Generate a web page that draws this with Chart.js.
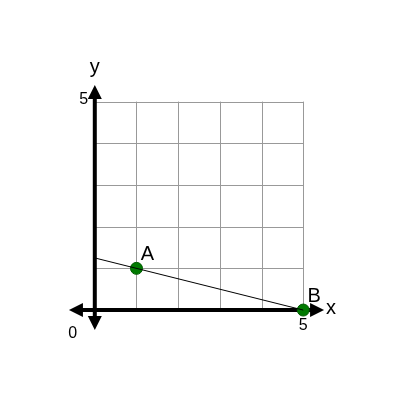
<!DOCTYPE html>
<html>
<head>
<meta charset="utf-8">
<script src="https://cdn.jsdelivr.net/npm/chart.js@4"></script>
<style>
  html, body { margin: 0; padding: 0; background: #ffffff; }
  #wrap { width: 400px; height: 400px; }
</style>
</head>
<body>
<div id="wrap"><canvas id="chart" width="400" height="400"></canvas></div>
<script>
// Grid and data values
var gridTicks = [0, 1, 2, 3, 4, 5];
var lineX = [0, 5];
var lineY = [1.25, 0];
var pointNames = ['A', 'B'];
var pointX = [1, 5];
var pointY = [1, 0];

// Draws grid, axes with arrows, tick labels and point names
var planePlugin = {
  id: 'plane',
  beforeDatasetsDraw: function(chart) {
    var ctx = chart.ctx, xs = chart.scales.x, ys = chart.scales.y;
    var x0 = xs.getPixelForValue(0), y0 = ys.getPixelForValue(0);
    var x5 = xs.getPixelForValue(5), y5 = ys.getPixelForValue(5);
    ctx.save();
    ctx.strokeStyle = '#999999';
    ctx.lineWidth = 1;
    gridTicks.forEach(function(t) {
      var px = Math.round(xs.getPixelForValue(t)) + 0.5;
      var py = Math.round(ys.getPixelForValue(t)) + 0.5;
      ctx.beginPath(); ctx.moveTo(px, y0); ctx.lineTo(px, y5); ctx.stroke();
      ctx.beginPath(); ctx.moveTo(x0, py); ctx.lineTo(x5, py); ctx.stroke();
    });
    // axes
    ctx.strokeStyle = '#000000';
    ctx.fillStyle = '#000000';
    ctx.lineWidth = 4;
    var xl = xs.getPixelForValue(-0.62), xr = xs.getPixelForValue(5.5);
    var yt = ys.getPixelForValue(5.4), yb = ys.getPixelForValue(-0.48);
    ctx.beginPath(); ctx.moveTo(xl + 8, y0); ctx.lineTo(xr - 8, y0); ctx.stroke();
    ctx.beginPath(); ctx.moveTo(x0, yt + 8); ctx.lineTo(x0, yb - 8); ctx.stroke();
    function arrow(tx, ty, dx, dy) {
      ctx.beginPath();
      ctx.moveTo(tx, ty);
      ctx.lineTo(tx - dx * 14 - dy * 7, ty - dy * 14 - dx * 7);
      ctx.lineTo(tx - dx * 14 + dy * 7, ty - dy * 14 + dx * 7);
      ctx.closePath(); ctx.fill();
    }
    arrow(xl, y0, -1, 0); arrow(xr, y0, 1, 0);
    arrow(x0, yt, 0, -1); arrow(x0, yb, 0, 1);
    // labels
    ctx.font = '20px "Liberation Sans", Arial, sans-serif';
    ctx.textAlign = 'center'; ctx.textBaseline = 'middle';
    ctx.fillText('y', x0, yt - 17);
    ctx.fillText('x', xr + 7, y0 - 2);
    ctx.font = '16px "Liberation Sans", Arial, sans-serif';
    ctx.fillText('5', x0 - 11, y5 - 2);
    ctx.fillText('5', x5, y0 + 16);
    ctx.fillText('0', x0 - 22, y0 + 24);
    ctx.font = '20px "Liberation Sans", Arial, sans-serif';
    for (var i = 0; i < pointNames.length; i++) {
      ctx.fillText(pointNames[i], xs.getPixelForValue(pointX[i]) + 11, ys.getPixelForValue(pointY[i]) - 14);
    }
    ctx.restore();
  }
};

var linePts = lineX.map(function(v, i) { return { x: v, y: lineY[i] }; });
var namedPts = pointX.map(function(v, i) { return { x: v, y: pointY[i] }; });

new Chart(document.getElementById('chart'), {
  type: 'scatter',
  data: {
    datasets: [
      { data: linePts, showLine: true, borderColor: '#000000', borderWidth: 1, pointRadius: 0 },
      { data: namedPts, pointRadius: 6, backgroundColor: '#007a00', borderColor: '#005c00', borderWidth: 1 }
    ]
  },
  options: {
    responsive: false,
    animation: false,
    layout: { padding: 0 },
    plugins: { legend: { display: false }, tooltip: { enabled: false } },
    scales: {
      x: { type: 'linear', display: false, min: -2.106, max: 7.153 },
      y: { type: 'linear', display: false, min: -1.99, max: 7.27 }
    }
  },
  plugins: [planePlugin]
});
</script>
</body>
</html>
